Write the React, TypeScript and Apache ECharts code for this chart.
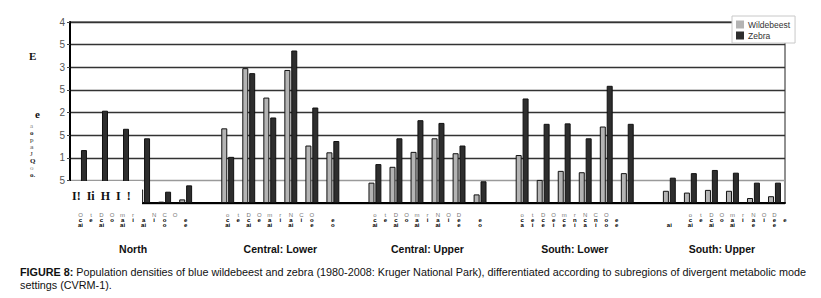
import React, { useEffect, useRef } from "react";
import * as echarts from "echarts";

const groupNames = ["North", "Central: Lower", "Central: Upper", "South: Lower", "South: Upper"];
const wildebeestNorth = [0.3, 0.3, 0.3, 0.3, 0.03, 0.08];
const zebraNorth = [1.17, 2.04, 1.64, 1.43, 0.25, 0.39];
const wildebeestCentralLower = [1.65, 2.98, 2.33, 2.94, 1.27, 1.12];
const zebraCentralLower = [1.02, 2.87, 1.89, 3.37, 2.11, 1.37];
const wildebeestCentralUpper = [0.45, 0.8, 1.13, 1.43, 1.1, 0.19];
const zebraCentralUpper = [0.86, 1.43, 1.83, 1.77, 1.27, 0.48];
const wildebeestSouthLower = [1.06, 0.51, 0.71, 0.68, 1.69, 0.66];
const zebraSouthLower = [2.31, 1.75, 1.76, 1.43, 2.59, 1.75];
const wildebeestSouthUpper = [0.27, 0.23, 0.29, 0.27, 0.11, 0.15];
const zebraSouthUpper = [0.56, 0.66, 0.73, 0.67, 0.45, 0.45];
const yTickLabels = ["", "5", "1", "5", "2", "5", "3", "5", "4"];

// garbled sub-category label rows (half-slot positions within each group)
const labelRow1 = [
  ["O", "t", "D", "O", "m", "r", "", "N", "C", "O", "", ""],
  ["o", "t", "D", "O", "m", "r", "N", "C", "O", "", "", ""],
  ["o", "t", "D", "O", "m", "r", "N", "O", "D", "", "", ""],
  ["o", "t", "D", "O", "m", "r", "N", "C", "O", "", "", ""],
  ["", "", "o", "t", "D", "O", "m", "r", "N", "O", "D", ""],
];
const labelRow2 = [
  ["c", "e", "c", "o", "a", "i", "a", "i", "o", "", "e", ""],
  ["c", "e", "c", "e", "a", "i", "a", "i", "o", "", "e", ""],
  ["c", "e", "c", "o", "a", "i", "a", "i", "e", "", "e", ""],
  ["c", "e", "c", "e", "c", "n", "c", "n", "o", "e", "", ""],
  ["", "", "c", "e", "c", "o", "a", "i", "a", "i", "e", "e"],
];
const labelRow3 = [
  ["ai", "", "ai", "", "ai", "", "ai", "", "o", "", "e", ""],
  ["ai", "", "ai", "", "ai", "", "ai", "", "e", "", "o", ""],
  ["ai", "", "ai", "", "ai", "", "ai", "", "e", "", "o", ""],
  ["a", "i", "e", "i", "e", "i", "a", "i", "o", "e", "", ""],
  ["ai", "", "ai", "", "ai", "", "ai", "", "e", "", "e", ""],
];
const yTitleChars = ["a", "o", "p", "a", "J", "Q", "o", "o."];
const overlayText = "I!  Ii  H  I  !";
const captionBold = "FIGURE 8:";
const captionLine1 =
  " Population densities of blue wildebeest and zebra (1980-2008: Kruger National Park), differentiated according to subregions of divergent metabolic mode";
const captionLine2 = "settings (CVRM-1).";

const wildebeestGroups = [wildebeestNorth, wildebeestCentralLower, wildebeestCentralUpper, wildebeestSouthLower, wildebeestSouthUpper];
const zebraGroups = [zebraNorth, zebraCentralLower, zebraCentralUpper, zebraSouthLower, zebraSouthUpper];

function buildSeries(groups: number[][]) {
  const out: (number | null)[] = [];
  groups.forEach((g, i) => {
    g.forEach((v) => out.push(v));
    if (i < groups.length - 1) out.push(null);
  });
  return out;
}
function buildCategories() {
  const out: string[] = [];
  groupNames.forEach((g, i) => {
    for (let k = 0; k < 6; k++) out.push(g + " " + (k + 1));
    if (i < groupNames.length - 1) out.push("gap" + i);
  });
  return out;
}

export default function App() {
  const ref = useRef<HTMLDivElement>(null);
  useEffect(() => {
    if (!ref.current) return;
    const chart = echarts.init(ref.current, undefined, { renderer: "svg" });
    const categories = buildCategories();
    const sans = "Liberation Sans, Arial, sans-serif";
    const serif = "Liberation Serif, DejaVu Serif, serif";
    const halfLabel = (v: number) => {
      for (let g = 0; g < 5; g++) {
        const base = 2 * (7 * g) + 1;
        const k = Math.round(v) - base;
        if (k >= 0 && k < 12) {
          const a = labelRow1[g][k] || " ";
          const b = labelRow2[g][k] || " ";
          const c = labelRow3[g][k] || " ";
          return `{a|${a}}\n{b|${b}}\n{b|${c}}`;
        }
      }
      return "";
    };
    const groupLabel = (v: number) => {
      const r = Math.round(v);
      for (let g = 0; g < 5; g++) if (r === 7 * g + 3) return groupNames[g];
      return "";
    };
    const graphic: any[] = [
      {
        type: "rect",
        z: 100,
        shape: { x: 66, y: 181, width: 76, height: 26 },
        style: { fill: "#fff" },
      },
      {
        type: "text",
        z: 101,
        left: 72,
        top: 190,
        style: { text: overlayText, fontFamily: serif, fontSize: 12, fontWeight: "bold", fill: "#111" },
      },
      {
        type: "text",
        z: 101,
        left: 29,
        top: 50,
        style: { text: "E", fontFamily: serif, fontSize: 11, fontWeight: "bold", fill: "#111" },
      },
      {
        type: "text",
        z: 101,
        left: 35,
        top: 108,
        style: { text: "e", fontFamily: serif, fontSize: 11, fontWeight: "bold", fill: "#111" },
      },
      {
        type: "text",
        z: 101,
        left: 20,
        top: 265,
        style: {
          text: `{b|${captionBold}}${captionLine1}\n${captionLine2}`,
          fontFamily: sans,
          fontSize: 10.8,
          lineHeight: 13,
          fill: "#111",
          rich: { b: { fontWeight: "bold", fontFamily: sans, fontSize: 10.8, fill: "#111" } },
        },
      },
    ];
    yTitleChars.forEach((ch, i) => {
      graphic.push({
        type: "text",
        z: 101,
        left: 30,
        top: 122 + i * 7,
        style: {
          text: ch,
          fontFamily: serif,
          fontSize: 7,
          lineHeight: 7,
          fontWeight: i % 2 === 0 ? "normal" : "bold",
          fill: i % 3 === 0 ? "#888" : "#222",
        },
      });
    });

    const splitColors = ["#333", "#9a9a9a", "#333", "#333", "#333", "#333", "#333", "#333", "#333"];

    chart.setOption({
      animation: false,
      backgroundColor: "#fff",
      textStyle: { fontFamily: sans },
      grid: {
        left: 70,
        right: 36,
        top: 22,
        bottom: 95,
        show: true,
        borderColor: "#222",
        borderWidth: 1,
        backgroundColor: "transparent",
      },
      legend: {
        left: 732,
        top: 16,
        orient: "vertical",
        backgroundColor: "#fff",
        borderColor: "#c8c8c8",
        borderWidth: 1,
        padding: [4, 5, 3, 4],
        itemWidth: 8,
        itemHeight: 8,
        itemGap: 2,
        icon: "rect",
        itemStyle: { borderWidth: 0 },
        textStyle: { fontSize: 8.5, color: "#333", fontFamily: sans, padding: [0, 0, 0, -1] },
        data: ["Wildebeest", "Zebra"],
      },
      xAxis: [
        {
          type: "category",
          data: categories,
          axisLine: { show: true, lineStyle: { color: "#000", width: 2 } },
          axisTick: { show: false },
          axisLabel: { show: false },
          splitLine: { show: false },
        },
        {
          type: "value",
          position: "bottom",
          min: 0,
          max: 68,
          interval: 1,
          axisLine: { show: false },
          axisTick: { show: false },
          splitLine: { show: false },
          axisLabel: {
            margin: 9,
            align: "center",
            formatter: halfLabel,
            rich: {
              a: { fontSize: 6, color: "#777", lineHeight: 5, fontFamily: sans },
              b: { fontSize: 6, color: "#000", fontWeight: "bold", lineHeight: 5, fontFamily: sans },
            },
          },
        },
        {
          type: "value",
          position: "bottom",
          min: 0,
          max: 34,
          interval: 1,
          axisLine: { show: false },
          axisTick: { show: false },
          splitLine: { show: false },
          axisLabel: {
            margin: 40,
            formatter: groupLabel,
            fontSize: 10.5,
            fontWeight: "bold",
            color: "#111",
            fontFamily: sans,
          },
        },
      ],
      yAxis: {
        type: "value",
        min: 0,
        max: 4,
        interval: 0.5,
        axisLine: { show: true, lineStyle: { color: "#000", width: 2 } },
        axisTick: { show: true, length: 3, lineStyle: { color: "#444" } },
        axisLabel: {
          margin: 5,
          color: "#555",
          fontSize: 10,
          fontFamily: sans,
          formatter: (v: number) => yTickLabels[Math.round(v * 2)] ?? "",
        },
        splitLine: { show: true, lineStyle: { color: splitColors, width: 1.3 } },
      },
      series: [
        {
          name: "Wildebeest",
          type: "bar",
          xAxisIndex: 0,
          data: buildSeries(wildebeestGroups),
          barWidth: 6,
          barGap: "15%",
          itemStyle: { color: "#b4b4b4", borderColor: "#111", borderWidth: 1 },
        },
        {
          name: "Zebra",
          type: "bar",
          xAxisIndex: 0,
          data: buildSeries(zebraGroups),
          barWidth: 6,
          barGap: "15%",
          itemStyle: { color: "#2e2e2e", borderColor: "#111", borderWidth: 1 },
        },
      ],
      graphic,
    });
    return () => chart.dispose();
  }, []);
  return <div ref={ref} style={{ position: "fixed", left: 0, top: 0, width: 821, height: 298 }} />;
}
